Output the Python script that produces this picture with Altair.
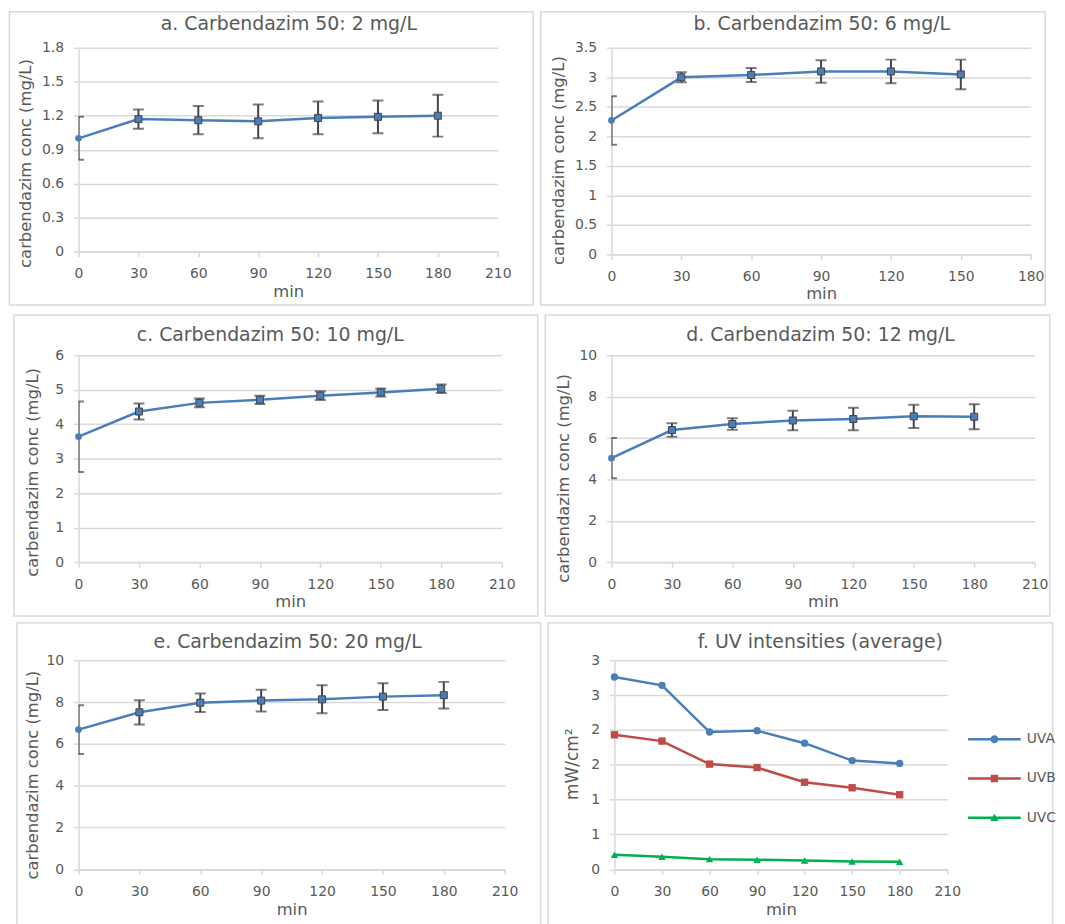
import altair as alt
import pandas as pd

# ---------------- data ----------------
minutes = [0, 30, 60, 90, 120, 150, 180]
minutes_b = [0, 30, 60, 90, 120, 150]

a_mean = [1.00, 1.17, 1.16, 1.15, 1.18, 1.19, 1.20]
a_err = [0.19, 0.085, 0.125, 0.15, 0.145, 0.145, 0.185]

b_mean = [2.27, 3.00, 3.04, 3.10, 3.10, 3.05]
b_err = [0.41, 0.085, 0.12, 0.19, 0.20, 0.25]

c_mean = [3.64, 4.37, 4.62, 4.71, 4.83, 4.92, 5.03]
c_err = [1.02, 0.23, 0.13, 0.12, 0.125, 0.115, 0.125]

d_mean = [5.03, 6.39, 6.68, 6.85, 6.92, 7.05, 7.03]
d_err = [0.97, 0.33, 0.28, 0.475, 0.54, 0.56, 0.60]

e_mean = [6.68, 7.51, 7.97, 8.07, 8.13, 8.26, 8.33]
e_err = [1.165, 0.58, 0.44, 0.52, 0.67, 0.64, 0.635]

uv_series = ["UVA", "UVB", "UVC"]
uva = [2.76, 2.64, 1.97, 1.99, 1.81, 1.56, 1.52]
uvb = [1.93, 1.84, 1.51, 1.46, 1.25, 1.17, 1.07]
uvc = [0.21, 0.18, 0.146, 0.137, 0.127, 0.113, 0.108]

x_ticks_210 = [0, 30, 60, 90, 120, 150, 180, 210]
x_ticks_180 = [0, 30, 60, 90, 120, 150, 180]
a_yticks = [0, 0.3, 0.6, 0.9, 1.2, 1.5, 1.8]
b_yticks = [0, 0.5, 1, 1.5, 2, 2.5, 3, 3.5]
c_yticks = [0, 1, 2, 3, 4, 5, 6]
de_yticks = [0, 2, 4, 6, 8, 10]
f_yticks = [0, 0.5, 1, 1.5, 2, 2.5, 3]

titles = [
    "a. Carbendazim 50: 2 mg/L",
    "b. Carbendazim 50: 6 mg/L",
    "c. Carbendazim 50: 10 mg/L",
    "d. Carbendazim 50: 12 mg/L",
    "e. Carbendazim 50: 20 mg/L",
    "f. UV intensities (average)",
]

# ---------------- style ----------------
FONT = "DejaVu Sans"
TXT = "#595959"
GRID = "#d9d9d9"
BLUE = "#4a7ebb"
RED = "#be4b48"
GREEN = "#00b050"
ERR = "#454545"
uv_colors = [BLUE, RED, GREEN]
uv_shapes = ["circle", "square", "triangle-up"]
# legend symbols: a short line with the series marker on it
uv_legend_shapes = [
    "M-5.3,-0.25H5.3V0.25H-5.3Z M0.8,0A0.8,0.8,0,1,1,-0.8,0A0.8,0.8,0,1,1,0.8,0Z",
    "M-5.3,-0.25H5.3V0.25H-5.3Z M-0.75,-0.75H0.75V0.75H-0.75Z",
    "M-5.3,-0.25H5.3V0.25H-5.3Z M0,-0.8L0.85,0.65L-0.85,0.65Z",
]


def frame(fx1, fy1, fx2, fy2):
    return alt.Chart(alt.Data(values=[{"f": 1}])).mark_rect(
        filled=False, stroke=GRID, strokeWidth=1.5, clip=False
    ).encode(x=alt.value(fx1), x2=alt.value(fx2), y=alt.value(fy1), y2=alt.value(fy2))


def title_mark(text, cx, by):
    return alt.Chart(alt.Data(values=[{"t": text}])).mark_text(
        font=FONT, fontSize=19, color=TXT, align="center", baseline="alphabetic"
    ).encode(text="t:N", x=alt.value(cx), y=alt.value(by))


def conc_panel(xs, means, errs, title, pw, ph, xmax, xticks, ymax, yticks,
               fr, tpos, ytx, yty, xty=45):
    df = pd.DataFrame({
        "min": xs,
        "conc": means,
        "lo": [m - e for m, e in zip(means, errs)],
        "hi": [m + e for m, e in zip(means, errs)],
    })
    xscale = alt.Scale(domain=[0, xmax], nice=False, zero=True)
    yscale = alt.Scale(domain=[0, ymax], nice=False, zero=True)
    xaxis = alt.Axis(values=xticks, grid=False, title="min", titleY=xty,
                     titleBaseline="alphabetic")
    yaxis = alt.Axis(values=yticks, grid=True, labelExpr="toString(datum.value)",
                     title="carbendazim conc (mg/L)", titleX=ytx, titleY=yty,
                     titleBaseline="middle", titleAlign="center")
    X = alt.X("min:Q", scale=xscale, axis=xaxis)

    def Y(f):
        return alt.Y(f + ":Q", scale=yscale, axis=yaxis)

    base = alt.Chart(df)
    line = base.mark_line(color=BLUE, strokeWidth=2.5).encode(x=X, y=Y("conc"))
    rule = base.mark_rule(color=ERR, strokeWidth=2, clip=True).encode(
        x=X, y=Y("lo"), y2="hi:Q")
    cap_hi = base.mark_tick(orient="horizontal", size=11, thickness=2,
                            color=ERR, clip=True).encode(x=X, y=Y("hi"))
    cap_lo = base.mark_tick(orient="horizontal", size=11, thickness=2,
                            color=ERR, clip=True).encode(x=X, y=Y("lo"))
    first = base.transform_filter("datum.min == 0").mark_point(
        shape="circle", filled=True, size=45, color=BLUE, opacity=1
    ).encode(x=X, y=Y("conc"))
    rest = base.transform_filter("datum.min > 0").mark_point(
        shape="square", filled=True, size=50, fill=BLUE, stroke=ERR,
        strokeWidth=1, opacity=1
    ).encode(x=X, y=Y("conc"))
    return alt.layer(frame(*fr), title_mark(title, *tpos), line, rule, cap_hi,
                     cap_lo, first, rest).properties(width=pw, height=ph)


pa = conc_panel(minutes, a_mean, a_err, titles[0], 422, 205, 210, x_ticks_210, 1.8,
                a_yticks, (-69.55, -36.25, 457.7, 259), (211.7, -18.3), -53.3, 116)
pb = conc_panel(minutes_b, b_mean, b_err, titles[1], 422, 208, 180, x_ticks_180, 3.5,
                b_yticks, (-71.3, -36.25, 436.7, 259), (211.7, -18.3), -52.8, 113, 44)
pc = conc_panel(minutes, c_mean, c_err, titles[2], 426, 208.4, 210, x_ticks_210, 6,
                c_yticks, (-64.95, -40.6, 462.3, 262.4), (193, -14.3), -46.2, 117.4)
pd_ = conc_panel(minutes, d_mean, d_err, titles[3], 426, 208.4, 210, x_ticks_210, 10,
                 de_yticks, (-66.7, -40.6, 441.3, 262.4), (210.5, -14.3), -47.9, 123.4)
pe = conc_panel(minutes, e_mean, e_err, titles[4], 429, 210.5, 210, x_ticks_210, 10,
                de_yticks, (-61.95, -37.8, 465.3, 270.2), (210.5, -12.1), -46.2, 115.2)

# ---------------- panel f ----------------
df_f = pd.DataFrame({
    "min": minutes * 3,
    "val": uva + uvb + uvc,
    "series": [s for s in uv_series for _ in minutes],
})
fx = alt.X("min:Q", scale=alt.Scale(domain=[0, 210], nice=False),
           axis=alt.Axis(values=x_ticks_210, grid=False, title="min", titleY=45,
                         titleBaseline="alphabetic"))
fy = alt.Y("val:Q", scale=alt.Scale(domain=[0, 3], nice=False),
           axis=alt.Axis(values=f_yticks, grid=True,
                         labelExpr="toString(round(datum.value))",
                         title="mW/cm²", titleX=-42, titleY=104.2, titleFontSize=17,
                         titleBaseline="middle", titleAlign="center"))

fbase = alt.Chart(df_f)
f_layers = []
for s, shp, col in zip(uv_series, uv_shapes, uv_colors):
    sub = fbase.transform_filter(alt.datum.series == s)
    f_layers.append(sub.mark_line(strokeWidth=2.5, color=col).encode(x=fx, y=fy))
    f_layers.append(sub.mark_point(shape=shp, filled=True, opacity=1, size=55,
                                   color=col).encode(x=fx, y=fy))

legend = alt.Legend(
    title=None, orient="none", legendX=915, legendY=689, symbolSize=100,
    labelOffset=25.5, rowPadding=25.5, padding=0, labelFont=FONT, labelFontSize=14,
    labelColor=TXT, symbolStrokeWidth=0, symbolOpacity=1,
)
f_legend = fbase.mark_point(filled=True, opacity=1, size=0).encode(
    x=fx, y=fy,
    color=alt.Color("series:N", scale=alt.Scale(domain=uv_series, range=uv_colors),
                    legend=legend),
    shape=alt.Shape("series:N", scale=alt.Scale(domain=uv_series, range=uv_legend_shapes),
                    legend=legend),
)
pf = alt.layer(
    frame(-66.7, -37.8, 441.3, 270.2), title_mark(titles[5], 207.3, -12.1),
    f_legend, *f_layers).properties(width=335, height=210.5)

row1 = alt.hconcat(pa, pb, spacing=4.5)
row2 = alt.hconcat(pc, pd_, spacing=4.5)
row3 = alt.hconcat(pe, pf, spacing=4.5)
top = alt.vconcat(row1, row2, spacing=7.5)

chart = alt.vconcat(top, row3, spacing=4.5).properties(
    padding=0, background="white"
).configure_view(stroke=None).configure_axis(
    domainColor=GRID, domainWidth=1.5, tickColor=GRID, tickWidth=1.5, tickSize=5,
    labelColor=TXT, labelFont=FONT, labelFontSize=14, labelPadding=10,
    labelFlush=False,
    titleColor=TXT, titleFont=FONT, titleFontSize=16.5, titleFontWeight="normal",
    gridColor=GRID, gridWidth=1.5,
)

chart.save("out.html", embed_options={"renderer": "svg", "actions": False})
